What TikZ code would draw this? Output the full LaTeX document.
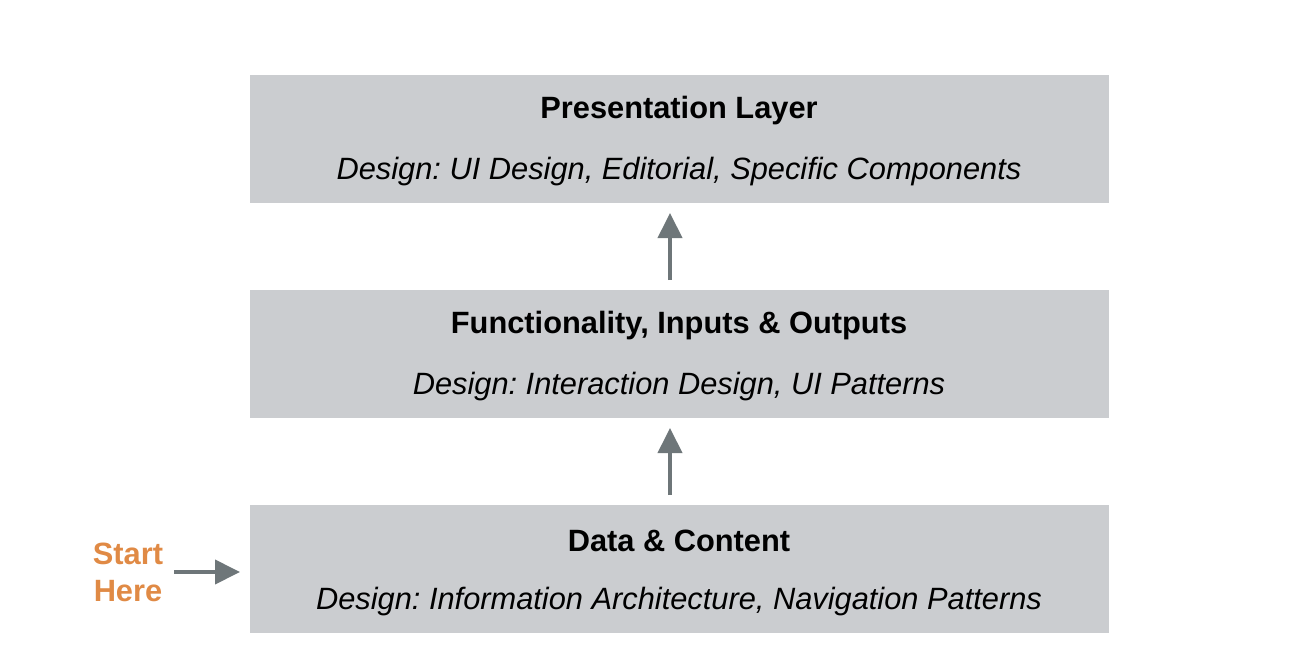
\documentclass[tikz,border=0pt]{standalone}
\usepackage{fontspec}
\setmainfont{Liberation Sans}
\usetikzlibrary{arrows.meta}
\frenchspacing
\definecolor{boxgray}{HTML}{CBCDD0}
\definecolor{arrgray}{HTML}{6E7679}
\definecolor{startor}{HTML}{E08A45}
\tikzset{
  layer/.style={fill=boxgray, draw=none, minimum width=859pt, minimum height=128pt, inner sep=0pt, anchor=north west},
  ttl/.style={font=\fontsize{30.8pt}{36pt}\selectfont\bfseries, anchor=center},
  sub/.style={font=\fontsize{30.8pt}{36pt}\selectfont\itshape, anchor=center},
  uparr/.style={draw=arrgray, line width=4pt, -{Triangle[length=25pt,width=24pt]}},
}
\begin{document}
\begin{tikzpicture}[x=1pt,y=-1pt]
\useasboundingbox (0,0) rectangle (1290,658);
\node[layer] (pres) at (250,75) {};
\node[layer] (func) at (250,290) {};
\node[layer] (data) at (250,505) {};
\node[ttl] (t1) at (679,111) {Presentation Layer};
\node[sub] (s1) at (679,172) {Design: UI Design, Editorial, Specific Components};
\node[ttl] (t2) at (679,326) {Functionality, Inputs \& Outputs};
\node[sub] (s2) at (679,387) {Design: Interaction Design, UI Patterns};
\node[ttl] (t3) at (679,541) {Data \& Content};
\node[sub] (s3) at (679,602) {Design: Information Architecture, Navigation Patterns};
\node[font=\fontsize{30.8pt}{37pt}\selectfont\bfseries, text=startor, align=center] (start) at (128,572) {Start\\Here};
\coordinate (a1s) at (670,280);
\coordinate (a1e) at (670,213);
\coordinate (a2s) at (670,495);
\coordinate (a2e) at (670,428);
\coordinate (a3s) at (174,572);
\coordinate (a3e) at (240,572);
\draw[uparr] (a1s) -- (a1e);
\draw[uparr] (a2s) -- (a2e);
\draw[uparr] (a3s) -- (a3e);
\end{tikzpicture}
\end{document}
